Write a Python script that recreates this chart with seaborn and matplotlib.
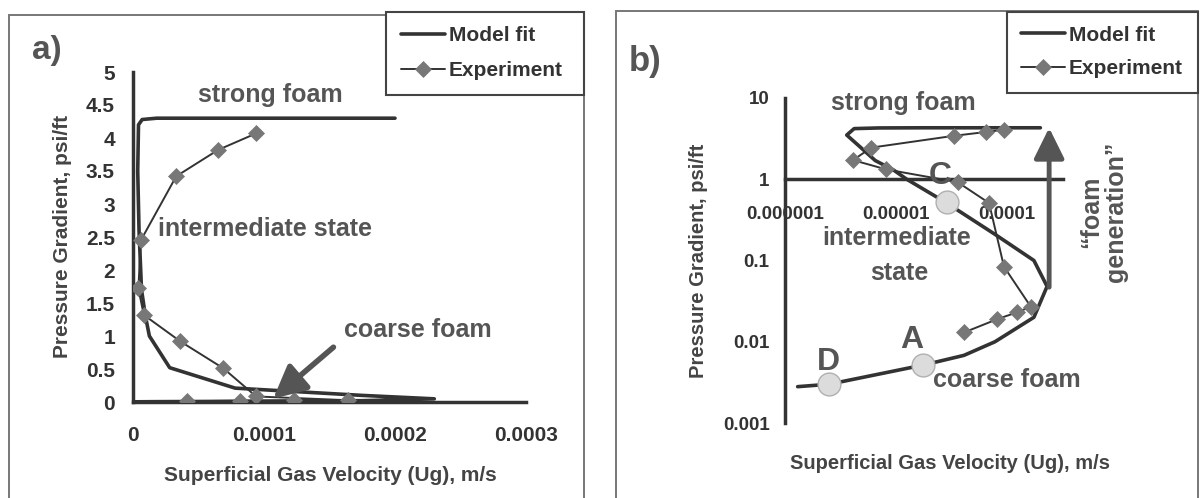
import matplotlib
matplotlib.use("Agg")
import matplotlib.pyplot as plt
import seaborn as sns
from matplotlib.patches import Rectangle
from matplotlib.ticker import FixedLocator, FixedFormatter, NullLocator

# ---------------- data ----------------
model_ug = [2.0e-4, 1.8e-5, 7.0e-6, 4.2e-6, 3.6e-6, 4.6e-6, 6.5e-6, 9.5e-6, 1.25e-5,
            2.8e-5, 7.8e-5, 1.75e-4, 2.3e-4, 1.75e-4, 7.8e-5, 4.1e-5, 1.8e-5, 2.5e-6, 1.3e-6]
model_dp = [4.3, 4.3, 4.28, 4.2, 3.5, 2.6, 1.7, 1.3, 1.0,
            0.52, 0.21, 0.10, 0.048, 0.020, 0.010, 0.0068, 0.0052, 0.0030, 0.0028]

exp_ug = [9.4e-5, 6.5e-5, 3.3e-5, 6.0e-6, 4.1e-6, 8.2e-6, 3.6e-5, 6.9e-5, 9.4e-5,
          1.64e-4, 1.23e-4, 8.2e-5, 4.1e-5]
exp_dp = [4.07, 3.82, 3.42, 2.45, 1.72, 1.32, 0.92, 0.51, 0.084,
          0.027, 0.023, 0.019, 0.013]

point_labels = ["C", "A", "D"]
point_ug = [2.9e-5, 1.77e-5, 2.47e-6]
point_dp = [0.52, 0.0052, 0.0030]

lin_xticks = [0, 0.0001, 0.0002, 0.0003]
lin_xticklabels = ["0", "0.0001", "0.0002", "0.0003"]
lin_yticks = [0, 0.5, 1, 1.5, 2, 2.5, 3, 3.5, 4, 4.5, 5]
lin_yticklabels = ["0", "0.5", "1", "1.5", "2", "2.5", "3", "3.5", "4", "4.5", "5"]
log_xticks = [1e-6, 1e-5, 1e-4]
log_xticklabels = ["0.000001", "0.00001", "0.0001"]
log_yticks = [0.001, 0.01, 0.1, 1, 10]
log_yticklabels = ["0.001", "0.01", "0.1", "1", "10"]

series_labels = ["Model fit", "Experiment"]

# ---------------- style ----------------
sns.set_theme(style="white")
plt.rcParams["font.family"] = ["Liberation Sans", "DejaVu Sans"]
plt.rcParams["font.weight"] = "bold"

W, H = 1200, 498
fig = plt.figure(figsize=(12, 4.98), dpi=100)


def fx(x):
    return x / W


def fy(y):
    return 1 - y / H


DARK = "#333333"
GREY = "#555555"
MARK = "#777777"

# panel frames
fig.add_artist(Rectangle((fx(9), fy(530)), (584 - 9) / W, (530 - 15) / H,
                         transform=fig.transFigure, fill=False, ec="#777777", lw=1.4, zorder=0))
fig.add_artist(Rectangle((fx(616), fy(530)), (1198 - 616) / W, (530 - 11) / H,
                         transform=fig.transFigure, fill=False, ec="#777777", lw=1.4, zorder=0))

axA = fig.add_axes([fx(133), fy(402), (526 - 133) / W, (402 - 72) / H])
axB = fig.add_axes([fx(785), fy(423), (1063 - 785) / W, (423 - 98) / H])
for ax in (axA, axB):
    ax.patch.set_alpha(0)


def draw_series(ax):
    sns.lineplot(x=model_ug, y=model_dp, sort=False, estimator=None, ax=ax,
                 color=DARK, linewidth=2.6, label=series_labels[0], legend=False, zorder=3)
    sns.lineplot(x=exp_ug, y=exp_dp, sort=False, estimator=None, ax=ax,
                 color=DARK, linewidth=1.4, marker="D", markersize=8,
                 markerfacecolor=MARK, markeredgecolor=MARK, markeredgewidth=0.5,
                 label=series_labels[1], legend=False, zorder=4)


# ---------------- panel a ----------------
draw_series(axA)
axA.set_xlim(0, 3e-4)
axA.set_ylim(0, 5)
axA.xaxis.set_major_locator(FixedLocator(lin_xticks))
axA.xaxis.set_major_formatter(FixedFormatter(lin_xticklabels))
axA.yaxis.set_major_locator(FixedLocator(lin_yticks))
axA.yaxis.set_major_formatter(FixedFormatter(lin_yticklabels))
axA.set_xlabel("")
axA.set_ylabel("")
for s in ("top", "right"):
    axA.spines[s].set_visible(False)
for s in ("left", "bottom"):
    axA.spines[s].set_color(DARK)
    axA.spines[s].set_linewidth(2.5)
axA.tick_params(axis="both", direction="out", length=6, width=2.5, color=DARK,
                labelsize=15, labelcolor=DARK)
axA.tick_params(axis="x", pad=11)
axA.tick_params(axis="y", pad=7)
axA.annotate("", xy=(1.07e-4, 0.05), xytext=(1.53e-4, 0.83),
             arrowprops=dict(arrowstyle="-|>,head_width=0.45,head_length=0.9",
                             lw=4, color=GREY, mutation_scale=22, shrinkA=0, shrinkB=0),
             zorder=5)

handles = axA.get_lines()[:2]
fig.add_artist(Rectangle((fx(386), fy(95)), (584 - 386) / W, (95 - 12) / H,
                         transform=fig.transFigure, fc="white", ec="#444444", lw=1.5, zorder=1))
legA = fig.legend(handles, series_labels, loc="center left",
                  bbox_to_anchor=(fx(401), fy(53)), frameon=False, fontsize=15,
                  handlelength=2.1, handletextpad=0.2, labelspacing=0.75,
                  borderpad=0, borderaxespad=0)
for t in legA.get_texts():
    t.set_color(DARK)

fig.text(fx(47), fy(51), "a)", fontsize=24, color=GREY, ha="center", va="center")
fig.text(fx(270), fy(95), "strong foam", fontsize=18, color=GREY, ha="center", va="center")
fig.text(fx(158), fy(229), "intermediate state", fontsize=18, color=GREY, ha="left", va="center")
fig.text(fx(344), fy(330), "coarse foam", fontsize=18, color=GREY, ha="left", va="center")
fig.text(fx(330), fy(475), "Superficial Gas Velocity (Ug), m/s", fontsize=15,
         color="#444444", ha="center", va="center")
fig.text(fx(62), fy(236), "Pressure Gradient, psi/ft", fontsize=15, color="#444444",
         ha="center", va="center", rotation=90)

# ---------------- panel b ----------------
draw_series(axB)
sns.scatterplot(x=point_ug, y=point_dp, ax=axB, s=270, color="#dcdcdc",
                edgecolor="#b0b0b0", linewidth=1.0, zorder=6, legend=False)
axB.set_xscale("log")
axB.set_yscale("log")
axB.set_xlim(1e-6, 3.2e-4)
axB.set_ylim(1e-3, 10)
axB.xaxis.set_major_locator(FixedLocator(log_xticks))
axB.xaxis.set_major_formatter(FixedFormatter(log_xticklabels))
axB.xaxis.set_minor_locator(NullLocator())
axB.yaxis.set_major_locator(FixedLocator(log_yticks))
axB.yaxis.set_major_formatter(FixedFormatter(log_yticklabels))
axB.yaxis.set_minor_locator(NullLocator())
axB.set_xlabel("")
axB.set_ylabel("")
for s in ("top", "right"):
    axB.spines[s].set_visible(False)
axB.spines["bottom"].set_position(("data", 1))
for s in ("left", "bottom"):
    axB.spines[s].set_color(DARK)
    axB.spines[s].set_linewidth(2.5)
axB.tick_params(axis="both", direction="out", length=6, width=2.5, color=DARK,
                labelsize=13.5, labelcolor=DARK)
axB.tick_params(axis="x", pad=13)
axB.tick_params(axis="y", pad=5)
axB.annotate("", xy=(2.4e-4, 4.3), xytext=(2.4e-4, 0.047),
             arrowprops=dict(arrowstyle="-|>,head_width=0.42,head_length=0.85",
                             lw=3.5, color=GREY, mutation_scale=22, shrinkA=0, shrinkB=0),
             zorder=5)

fig.add_artist(Rectangle((fx(1007), fy(93)), (1198 - 1007) / W, (93 - 12) / H,
                         transform=fig.transFigure, fc="white", ec="#444444", lw=1.5, zorder=1))
legB = fig.legend(axB.get_lines()[:2], series_labels, loc="center left",
                  bbox_to_anchor=(fx(1021), fy(52)), frameon=False, fontsize=15,
                  handlelength=2.1, handletextpad=0.2, labelspacing=0.7,
                  borderpad=0, borderaxespad=0)
for t in legB.get_texts():
    t.set_color(DARK)

fig.text(fx(645), fy(61), "b)", fontsize=25, color=GREY, ha="center", va="center")
fig.text(fx(903), fy(103), "strong foam", fontsize=18, color=GREY, ha="center", va="center")
fig.text(fx(897), fy(238), "intermediate", fontsize=18, color=GREY, ha="center", va="center")
fig.text(fx(899), fy(273), "state", fontsize=18, color=GREY, ha="center", va="center")
fig.text(fx(933), fy(380), "coarse foam", fontsize=18, color=GREY, ha="left", va="center")
fig.text(fx(1104), fy(212), "\u201cfoam\ngeneration\u201d", fontsize=18, color=GREY,
         ha="center", va="center", rotation=90, multialignment="center", linespacing=1.05)
for lab, px, py in zip(point_labels, [940, 912, 828], [176, 340, 362]):
    fig.text(fx(px), fy(py), lab, fontsize=23, color=GREY, ha="center", va="center", zorder=7)
fig.text(fx(950), fy(463), "Superficial Gas Velocity (Ug), m/s", fontsize=14.5,
         color="#444444", ha="center", va="center")
fig.text(fx(698), fy(261), "Pressure Gradient, psi/ft", fontsize=14.5, color="#444444",
         ha="center", va="center", rotation=90)

fig.savefig("out.png", dpi=100)
